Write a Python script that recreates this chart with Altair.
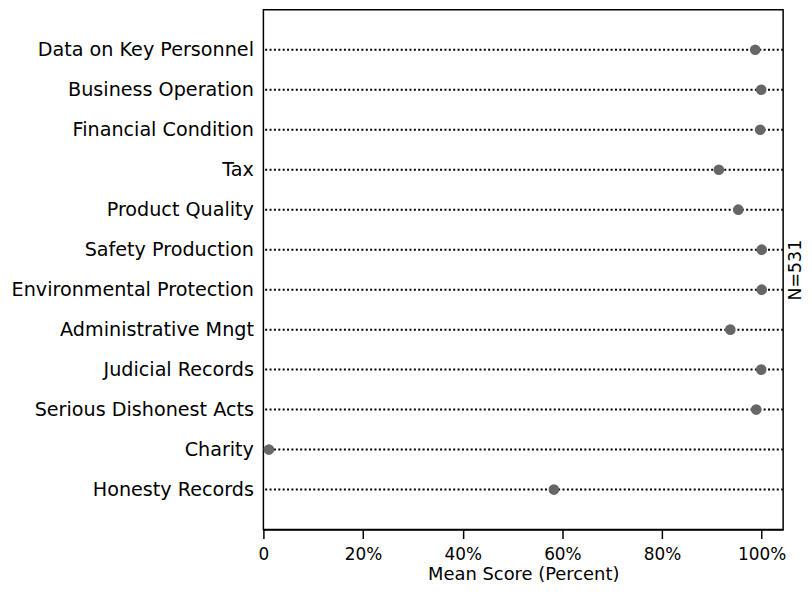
import altair as alt
import pandas as pd

categories = [
    "Data on Key Personnel", "Business Operation", "Financial Condition", "Tax",
    "Product Quality", "Safety Production", "Environmental Protection",
    "Administrative Mngt", "Judicial Records", "Serious Dishonest Acts",
    "Charity", "Honesty Records",
]
mean_scores = [98.7, 99.9, 99.7, 91.4, 95.3, 100.0, 100.0, 93.7, 99.9, 98.9, 1.1, 58.3]
x_ticks = [0, 20, 40, 60, 80, 100]
x_title = "Mean Score (Percent)"
sample_note = "N=531"

df = pd.DataFrame({"item": categories, "score": mean_scores})

FONT = "DejaVu Sans"
W, H = 523, 523

y_scale = alt.Scale(type="point", domain=categories, padding=1.0)
x_scale = alt.Scale(domain=[0, 104.3], nice=False, zero=False)

rules = alt.Chart(df).mark_rule(
    color="black", strokeWidth=2, strokeDash=[2, 2.4]
).encode(
    y=alt.Y(
        "item:N", scale=y_scale, sort=categories,
        axis=alt.Axis(
            orient="right", title=sample_note, labels=False, ticks=False, domain=False,
            titleFont=FONT, titleFontSize=17.5, titleFontWeight="normal",
            titleColor="black", titlePadding=3, titleAngle=270, titleBaseline="top",
        ),
    )
)

points = alt.Chart(df).mark_circle(size=115, color="#666666", opacity=1).encode(
    x=alt.X(
        "score:Q", scale=x_scale,
        axis=alt.Axis(
            values=x_ticks,
            labelExpr="datum.value == 0 ? '0' : datum.value + '%'",
            labelFlush=False,
            title=x_title, grid=False, tickSize=9, tickColor="black", tickWidth=1.5,
            domainColor="black", domainWidth=1.5,
            labelFont=FONT, labelFontSize=17, labelColor="black", labelPadding=8,
            titleFont=FONT, titleFontSize=18, titleFontWeight="normal",
            titleColor="black", titlePadding=3,
        ),
    ),
    y=alt.Y(
        "item:N", scale=y_scale, sort=categories,
        axis=alt.Axis(
            orient="left", title=None, ticks=False, domain=False, labelLimit=0,
            labelFont=FONT, labelFontSize=19.3, labelColor="black", labelPadding=10,
        ),
    ),
)

chart = (
    alt.layer(rules, points)
    .resolve_axis(y="independent")
    .properties(width=W, height=H, padding={"left": 3, "top": 0, "right": 0, "bottom": 0})
    .configure_view(stroke="black", strokeWidth=1.5)
)

chart.save("out.html", embed_options={"renderer": "svg", "actions": False})
